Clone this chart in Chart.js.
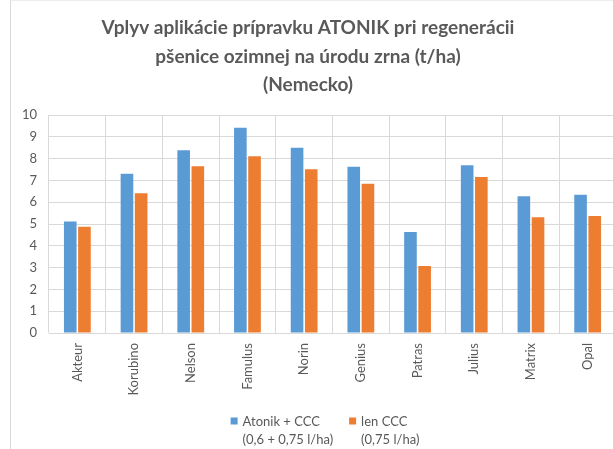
<!DOCTYPE html>
<html>
<head>
<meta charset="utf-8">
<script src="https://cdn.jsdelivr.net/npm/chart.js@4.4.0/dist/chart.umd.min.js"></script>
<style>
  html, body { margin: 0; padding: 0; background: #fff; overflow: hidden; width: 613px; height: 449px; }
  #wrap { position: absolute; left: 0; top: 0; width: 650px; height: 449px; }
  #frame { position: absolute; left: 10px; top: 0px; width: 700px; height: 500px; border-left: 1px solid #d9d9d9; border-top: 1px solid #ececec; pointer-events: none; }
</style>
</head>
<body>
<div id="wrap"><canvas id="c" width="650" height="449"></canvas></div>
<div id="frame"></div>
<script>
const titleLines = ["Vplyv aplikácie prípravku ATONIK pri regenerácii", "pšenice ozimnej na úrodu zrna (t/ha)", "(Nemecko)"];
const categories = ["Akteur", "Korubino", "Nelson", "Famulus", "Norin", "Genius", "Patras", "Julius", "Matrix", "Opal"];
const seriesNames = [["Atonik + CCC", "(0,6 + 0,75 l/ha)"], ["len CCC", "(0,75 l/ha)"]];
const atonikCCC = [5.11, 7.31, 8.38, 9.42, 8.50, 7.63, 4.63, 7.69, 6.27, 6.34];
const lenCCC = [4.87, 6.41, 7.65, 8.11, 7.51, 6.85, 3.07, 7.16, 5.31, 5.37];
const yTicks = [0, 1, 2, 3, 4, 5, 6, 7, 8, 9, 10];

const GRAY = '#595959';
const GRID = '#d9d9d9';

// Two-line legend drawn below the axis labels
const legendPlugin = {
  id: 'twoLineLegend',
  afterDraw(chart) {
    const ctx = chart.ctx;
    const font = '13px Lato';
    const box = 7, gap = 5, itemGap = 16, lineH = 18.5;
    const top = 421.5; // centre of first text line
    ctx.save();
    ctx.font = font;
    const items = chart.data.datasets.map(ds => {
      const w = Math.max(...ds.label.map(t => ctx.measureText(t).width));
      return { ds, w: box + gap + w };
    });
    const total = items.reduce((a, it) => a + it.w, 0) + itemGap * (items.length - 1);
    let x = 325 - total / 2;
    ctx.textBaseline = 'middle';
    ctx.textAlign = 'left';
    items.forEach(it => {
      ctx.fillStyle = it.ds.backgroundColor;
      ctx.fillRect(x, top - 4, box, box);
      ctx.fillStyle = GRAY;
      it.ds.label.forEach((t, i) => ctx.fillText(t, x + box + gap, top + i * lineH));
      x += it.w + itemGap;
    });
    ctx.restore();
  }
};

new Chart(document.getElementById('c'), {
  type: 'bar',
  data: {
    labels: categories,
    datasets: [
      { label: seriesNames[0], data: atonikCCC, backgroundColor: '#5B9BD5', categoryPercentage: 0.5, barPercentage: 0.89 },
      { label: seriesNames[1], data: lenCCC, backgroundColor: '#ED7D31', categoryPercentage: 0.5, barPercentage: 0.89 }
    ]
  },
  options: {
    responsive: false,
    animation: false,
    devicePixelRatio: 1,
    layout: { padding: { left: 0, right: 34, top: 0, bottom: 44 } },
    plugins: {
      title: {
        display: true,
        text: titleLines,
        color: GRAY,
        font: { family: 'Lato', size: 19, weight: 'bold', lineHeight: 1.5 },
        padding: { top: 14, bottom: 15.5 }
      },
      legend: { display: false },
      tooltip: { enabled: false }
    },
    scales: {
      x: {
        grid: { display: true, offset: true, color: (c) => (c.index === undefined ? 'rgba(0,0,0,0)' : GRID), lineWidth: 1, drawTicks: false },
        border: { color: GRID },
        ticks: { color: GRAY, font: { family: 'Lato', size: 13 }, maxRotation: 90, minRotation: 90, padding: 10 },
        afterFit(s) { s.height = 72; }
      },
      y: {
        min: 0, max: 10,
        afterBuildTicks(s) { s.ticks = yTicks.map(v => ({ value: v })); },
        grid: { color: GRID, lineWidth: 1, drawTicks: false },
        border: { display: false },
        ticks: { color: GRAY, font: { family: 'Lato', size: 13 }, padding: 12 },
        afterFit(s) { s.width = 49; }
      }
    }
  },
  plugins: [legendPlugin]
});
</script>
</body>
</html>
